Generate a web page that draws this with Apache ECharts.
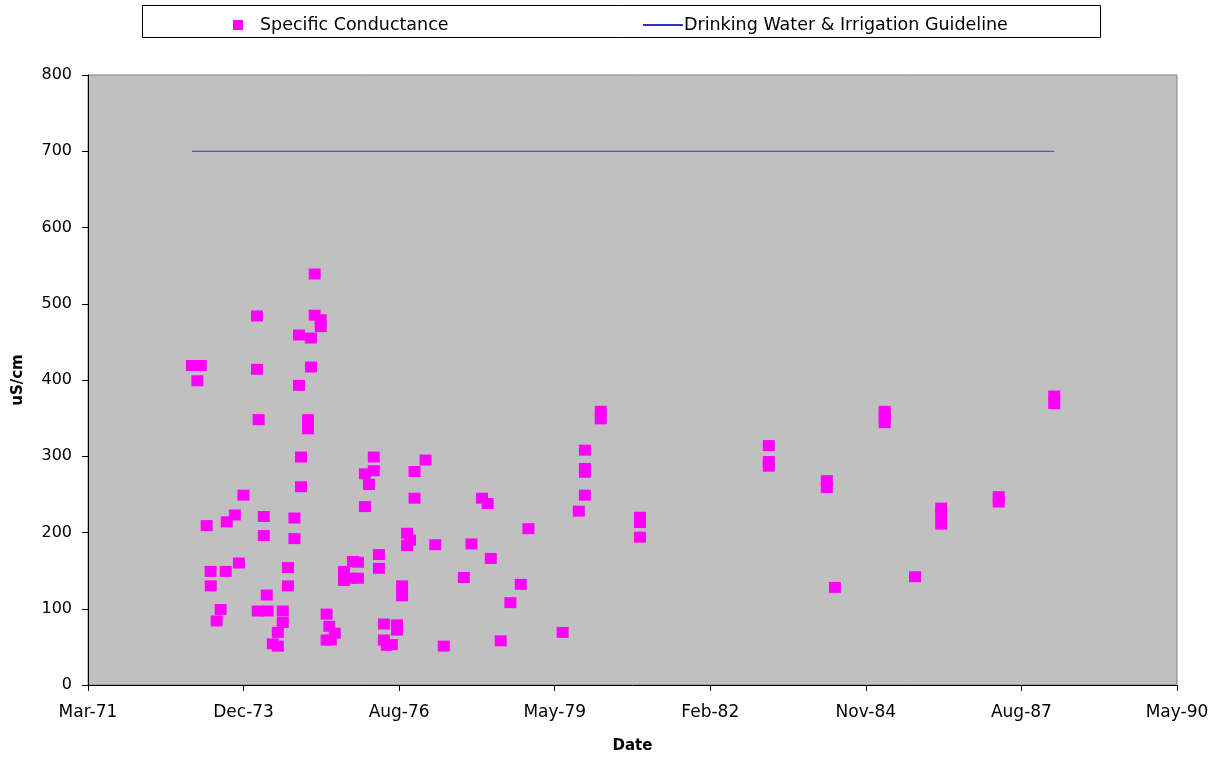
<!DOCTYPE html>
<html>
<head>
<meta charset="utf-8">
<script src="https://cdn.jsdelivr.net/npm/echarts@6/dist/echarts.min.js"></script>
<style>
    html, body {margin: 0; padding: 0; background: #fff;}
    #chart {width: 1219px; height: 759px;}
</style>
</head>
<body>
<div id="chart"></div>
<script>
// sample dates and specific conductance (uS/cm)
const sampleDates = [
    '1973-01-04', '1973-03-02', '1973-02-08', '1973-04-09', '1973-05-04', '1973-05-05',
    '1973-06-12', '1973-07-08', '1973-08-09', '1973-08-16', '1973-10-07', '1973-11-02',
    '1973-12-01', '1974-02-26', '1974-02-26', '1974-03-09', '1974-03-03', '1974-04-11',
    '1974-04-11', '1974-04-30', '1974-05-06', '1974-06-08', '1974-07-10', '1974-07-10',
    '1974-08-11', '1974-08-11', '1974-09-13', '1974-09-13', '1974-10-25', '1974-10-25',
    '1974-11-23', '1974-11-23', '1974-12-06', '1974-12-06', '1975-01-20', '1975-01-20',
    '1975-02-08', '1975-02-08', '1975-03-04', '1975-03-04', '1975-04-12', '1975-04-12',
    '1975-05-20', '1975-05-20', '1975-06-16', '1975-06-06', '1975-07-11', '1975-09-08',
    '1975-09-08', '1975-10-29', '1975-11-05', '1975-12-07', '1975-12-07', '1976-01-21',
    '1976-01-21', '1976-02-16', '1976-03-18', '1976-03-18', '1976-04-20', '1976-04-20',
    '1976-05-22', '1976-05-22', '1976-06-10', '1976-07-12', '1976-08-14', '1976-08-14',
    '1976-09-16', '1976-09-16', '1976-10-18', '1976-11-06', '1976-10-18', '1976-12-05',
    '1976-12-05', '1977-02-14', '1977-04-17', '1977-06-11', '1977-10-18', '1977-12-06',
    '1978-02-12', '1978-03-20', '1978-04-09', '1978-06-12', '1978-08-13', '1978-10-19',
    '1978-12-07', '1979-07-15', '1979-10-27', '1979-12-05', '1979-12-05', '1979-12-05',
    '1979-12-05', '1980-03-16', '1980-03-16', '1980-11-23', '1980-11-23', '1980-11-23',
    '1983-03-01', '1983-03-01', '1983-03-01', '1984-03-08', '1984-03-08', '1984-04-29',
    '1985-03-15', '1985-03-15', '1985-03-15', '1985-09-26', '1986-03-13', '1986-03-13',
    '1986-03-13', '1987-03-18', '1987-03-18', '1988-03-09', '1988-03-09'
]
const conductance = [
    419, 419, 399, 209, 149, 130,
    84, 99, 149, 214, 223, 160,
    249, 484, 414, 348, 97, 221,
    196, 118, 97, 54, 51, 69,
    97, 82, 154, 130, 219, 192,
    459, 393, 299, 260, 348, 336,
    455, 417, 539, 485, 479, 470,
    93, 59, 59, 77, 68, 149,
    137, 140, 162, 161, 140, 277,
    234, 263, 281, 299, 171, 153,
    80, 59, 52, 53, 79, 72,
    130, 117, 199, 190, 183, 280,
    245, 295, 184, 51, 141, 185,
    245, 238, 166, 58, 108, 132,
    205, 69, 228, 308, 284, 279,
    249, 359, 349, 220, 213, 194,
    314, 293, 287, 268, 259, 128,
    359, 352, 344, 142, 232, 225,
    211, 247, 240, 379, 369
]

// guideline runs from first to last sample
const guidelineDates = ['1973-01-04', '1988-03-09']
const guidelineValues = [700, 700]

// x axis in spreadsheet day numbers: 26000 = Mar-71, step 1000 days
const xMin = 26000
const xMax = 33000
const xStep = 1000
const monthNames = ['Jan', 'Feb', 'Mar', 'Apr', 'May', 'Jun', 'Jul', 'Aug', 'Sep', 'Oct', 'Nov', 'Dec']

const toSerial = (s) => {
    const p = s.split('-').map(Number)
    return Date.UTC(p[0], p[1] - 1, p[2]) / 86400000 + 25569
}

const fmtSerial = (v) => {
    const d = new Date((v - 25569) * 86400000)
    return monthNames[d.getUTCMonth()] + '-' + String(d.getUTCFullYear()).slice(2)
}

const font = '"DejaVu Sans", Arial, sans-serif'
const lineColor = '#3535b4'

const getOption = () => {
    return {
        animation: false,
        backgroundColor: '#fff',
        textStyle: {fontFamily: font},
        graphic: [
            {
                type: 'rect',
                left: 142,
                top: 5,
                shape: {width: 958, height: 32},
                style: {fill: '#fff', stroke: '#000', lineWidth: 1},
                z: -1
            }
        ],
        legend: [
            {
                data: ['Specific Conductance'],
                left: 228,
                top: 11,
                itemWidth: 10,
                itemHeight: 10,
                textStyle: {fontSize: 17.5, color: '#000', fontFamily: font, padding: [0, 0, 0, 12]}
            },
            {
                data: [{name: 'Drinking Water & Irrigation Guideline', icon: 'rect'}],
                left: 638,
                top: 11,
                itemWidth: 40,
                itemHeight: 2,
                textStyle: {fontSize: 17.5, color: '#000', fontFamily: font, padding: [0, 0, 0, -4]}
            }
        ],
        grid: {
            left: 88,
            right: 42,
            top: 75,
            bottom: 73,
            show: true,
            backgroundColor: '#c0c0c0',
            borderColor: '#808080',
            borderWidth: 1
        },
        xAxis: {
            type: 'value',
            min: xMin,
            max: xMax,
            interval: xStep,
            name: 'Date',
            nameLocation: 'middle',
            nameGap: 54,
            nameTextStyle: {fontSize: 15, fontWeight: 'bold', color: '#000', fontFamily: font},
            axisLine: {show: true, lineStyle: {color: '#000', width: 1}},
            axisTick: {show: true, length: 6, lineStyle: {color: '#000'}},
            axisLabel: {
                fontSize: 17,
                color: '#000',
                margin: 19,
                fontFamily: font,
                formatter: fmtSerial
            },
            splitLine: {show: false}
        },
        yAxis: {
            type: 'value',
            min: 0,
            max: 800,
            interval: 100,
            name: 'uS/cm',
            nameLocation: 'middle',
            nameGap: 62,
            nameRotate: 90,
            nameTextStyle: {fontSize: 15, fontWeight: 'bold', color: '#000', fontFamily: font},
            axisLine: {show: true, lineStyle: {color: '#000', width: 1}},
            axisTick: {show: true, length: 6, lineStyle: {color: '#000'}},
            axisLabel: {fontSize: 16, color: '#000', margin: 16, fontFamily: font},
            splitLine: {show: false}
        },
        series: [
            {
                name: 'Specific Conductance',
                type: 'scatter',
                symbol: 'rect',
                symbolSize: [12, 11],
                itemStyle: {color: '#ff00ff', opacity: 1},
                data: []
            },
            {
                name: 'Drinking Water & Irrigation Guideline',
                type: 'line',
                symbol: 'none',
                lineStyle: {color: lineColor, width: 1},
                itemStyle: {color: lineColor},
                data: []
            }
        ]
    }
}

const initChart = () => {
    const option = getOption()
    sampleDates.forEach((d, i) => {
        option.series[0].data.push([toSerial(d), conductance[i]])
    })
    guidelineDates.forEach((d, i) => {
        option.series[1].data.push([toSerial(d), guidelineValues[i]])
    })
    const chart = echarts.init(document.getElementById('chart'))
    chart.setOption(option)
}

initChart()
</script>
</body>
</html>
